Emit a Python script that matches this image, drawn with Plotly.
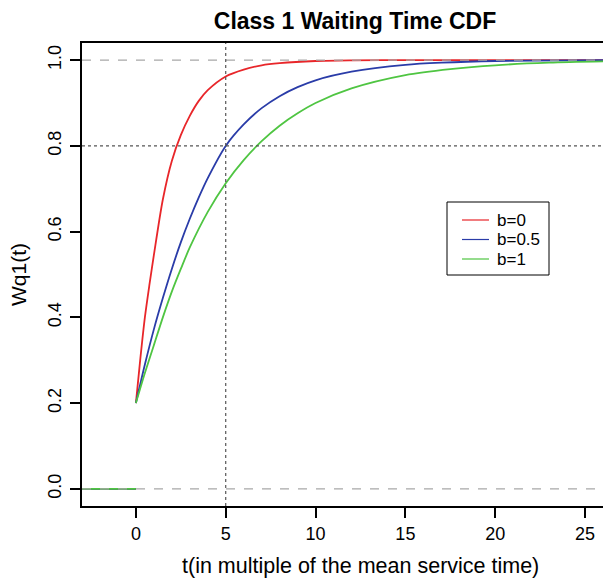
import plotly.graph_objects as go

# ---- data ----
t_neg = [-3, 0]
w_neg = [0, 0]

t_b0 = [0, 0.25, 0.5, 0.75, 1, 1.5, 2, 2.5, 3, 3.5, 4, 5, 6, 7, 8, 10, 12, 15, 20, 26]
w_b0 = [0.20, 0.305, 0.40, 0.475, 0.545, 0.675, 0.765, 0.825, 0.87, 0.905, 0.93, 0.962,
        0.978, 0.988, 0.993, 0.998, 0.9995, 1.0, 1.0, 1.0]

t_b05 = [0, 0.5, 1, 1.5, 2, 2.5, 3, 3.5, 4, 5, 6, 7, 8, 9, 10, 12, 15, 17, 20, 26]
w_b05 = [0.20, 0.29, 0.372, 0.445, 0.513, 0.575, 0.63, 0.68, 0.725, 0.80, 0.85, 0.888,
         0.916, 0.937, 0.953, 0.973, 0.989, 0.994, 0.998, 1.0]

t_b1 = [0, 0.5, 1, 1.5, 2, 2.5, 3, 4, 5, 6, 7, 8, 9, 10, 12, 15, 17.5, 20, 23, 26]
w_b1 = [0.20, 0.27, 0.335, 0.40, 0.46, 0.513, 0.563, 0.646, 0.713, 0.767, 0.811, 0.847,
        0.876, 0.90, 0.934, 0.965, 0.979, 0.988, 0.994, 0.997]

names = ["b=0", "b=0.5", "b=1"]
colors = ["#e8262a", "#2a3ca8", "#4fc542"]
series = list(zip(names, [t_b0, t_b05, t_b1], [w_b0, w_b05, w_b1], colors))

x_ticks = [0, 5, 10, 15, 20, 25]
y_ticks = [0.0, 0.2, 0.4, 0.6, 0.8, 1.0]

fig = go.Figure()
for name, tx, wy, col in series:
    fig.add_trace(go.Scatter(x=t_neg, y=w_neg, mode="lines", showlegend=False,
                             line=dict(color=col, width=1.8), hoverinfo="skip"))
for name, tx, wy, col in series:
    fig.add_trace(go.Scatter(x=tx, y=wy, mode="lines", name=name, showlegend=False,
                             line=dict(color=col, width=1.8, shape="spline", smoothing=0.8)))

# reference lines
fig.add_hline(y=1.0, line=dict(color="#a8a8a8", width=1.2, dash="dash"), layer="above")
fig.add_hline(y=0.0, line=dict(color="#a8a8a8", width=1.2, dash="dash"), layer="above")
fig.add_hline(y=0.8, line=dict(color="#555555", width=1.2, dash="dot"), layer="above")
fig.add_vline(x=5, line=dict(color="#555555", width=1.2, dash="dot"), layer="above")

# plot area in pixels: x 82..603, y 43..506
PL, PR, PT, PB = 82, 603, 43, 506
def px(x):
    return (x - PL) / (PR - PL)
def py(y):
    return (PB - y) / (PB - PT)

# legend drawn in paper coordinates
fig.add_shape(type="rect", xref="paper", yref="paper",
              x0=px(447), x1=px(549), y0=py(275), y1=py(202),
              line=dict(color="black", width=1), fillcolor="white", layer="above")
for i, (name, col) in enumerate(zip(names, colors)):
    yy = 220 + i * 19.5
    fig.add_shape(type="line", xref="paper", yref="paper",
                  x0=px(462), x1=px(489), y0=py(yy), y1=py(yy),
                  line=dict(color=col, width=1.2), layer="above")
    fig.add_annotation(xref="paper", yref="paper", x=px(495), y=py(yy),
                       xanchor="left", yanchor="middle", text=name, showarrow=False,
                       font=dict(size=17))

# x-axis title (centered like the original, wider plot region)
fig.add_annotation(xref="paper", yref="paper", x=px(360), y=py(566),
                   xanchor="center", yanchor="middle", showarrow=False,
                   text="t(in multiple of the mean service time)", font=dict(size=21.5))

font = "Liberation Sans, Arial, Helvetica, sans-serif"
fig.update_layout(
    width=603, height=578,
    margin=dict(l=82, r=0, t=43, b=72),
    paper_bgcolor="white", plot_bgcolor="white",
    font=dict(family=font, size=18, color="black"),
    title=dict(text="<b>Class 1 Waiting Time CDF</b>", x=355 / 603, xanchor="center",
               y=1 - 21 / 578, yanchor="middle", font=dict(size=23)),
    showlegend=False,
    xaxis=dict(range=[-3.0, 26.0], tickvals=x_ticks, ticks="outside", ticklen=10,
               tickwidth=1.5, tickcolor="black", showline=True, linewidth=2,
               linecolor="black", mirror=True, showgrid=False, zeroline=False),
    yaxis=dict(range=[-0.04, 1.04], tickvals=y_ticks, tickformat=".1f", ticks="outside",
               ticklen=10, tickwidth=1.5, tickcolor="black", showline=True, linewidth=2,
               linecolor="black", mirror=False, showgrid=False, zeroline=False,
               tickangle=-90, ticklabelstandoff=2,
               title=dict(text="Wq1(t)", font=dict(size=21), standoff=12)),
)

fig.write_html("out.html")
